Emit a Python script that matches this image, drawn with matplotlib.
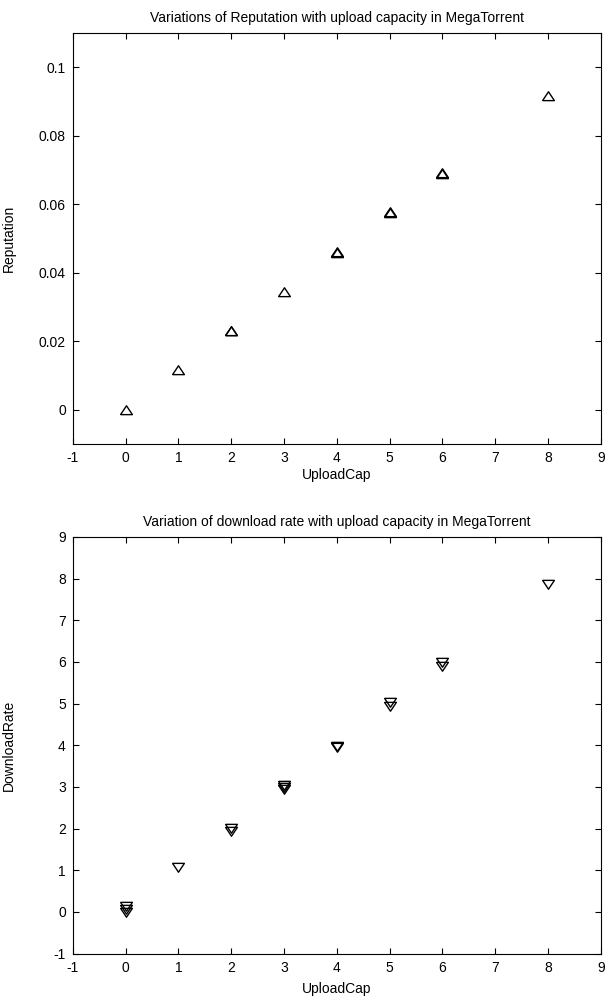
import matplotlib
matplotlib.use("Agg")
import matplotlib.pyplot as plt

plt.rcParams['font.family'] = ['Liberation Sans', 'DejaVu Sans']
plt.rcParams['font.size'] = 10
plt.rcParams['axes.unicode_minus'] = False

# upper panel: reputation vs upload capacity (several runs overlap at some x)
rep_upload = [0, 1, 2, 2, 3, 4, 4, 5, 5, 6, 6, 8]
reputation = [0.0, 0.0115, 0.0229, 0.0231, 0.0345, 0.0459, 0.0461,
              0.0574, 0.0576, 0.0689, 0.0691, 0.0917]

# lower panel: download rate vs upload capacity
dl_upload = [0, 0, 0, 1, 2, 2, 3, 3, 3, 4, 4, 5, 5, 6, 6, 8]
download_rate = [0.0, 0.06, 0.14, 1.07, 1.95, 2.02, 2.96, 3.0, 3.04,
                 3.95, 3.99, 4.95, 5.04, 5.9, 5.99, 7.87]

x_ticks = list(range(-1, 10))
rep_ticks = [0, 0.02, 0.04, 0.06, 0.08, 0.1]
rep_ticklabels = ["0", "0.02", "0.04", "0.06", "0.08", "0.1"]
dl_ticks = list(range(-1, 10))

# flatter matlab-like triangles
tri_up = [(-1, -0.7), (1, -0.7), (0, 0.8), (-1, -0.7)]
tri_down = [(-1, 0.7), (1, 0.7), (0, -0.8), (-1, 0.7)]

fig = plt.figure(figsize=(6.08, 9.96), dpi=100)
ax1 = fig.add_axes([0.1196, 0.5542, 0.8684, 0.4127])
ax2 = fig.add_axes([0.1196, 0.0425, 0.8684, 0.4184])


def style(ax):
    ax.set_xlim(-1, 9)
    ax.set_xticks(x_ticks)
    ax.tick_params(direction='in', top=True, right=True, length=4,
                   width=0.8, pad=5, colors='black', labelsize=10)
    for s in ax.spines.values():
        s.set_linewidth(0.8)


ax1.plot(rep_upload, reputation, linestyle='none', marker=tri_up, ms=8.5,
         mfc='none', mec='black', mew=1.0)
style(ax1)
ax1.set_ylim(-0.01, 0.11)
ax1.set_yticks(rep_ticks)
ax1.set_yticklabels(rep_ticklabels)
ax1.set_title("Variations of Reputation with upload capacity in MegaTorrent",
              fontsize=10, pad=8)
ax1.set_xlabel("UploadCap")
ax1.set_ylabel("Reputation")
ax1.xaxis.set_label_coords(0.5, -0.058)
ax1.yaxis.set_label_coords(-0.107, 0.5)

ax2.plot(dl_upload, download_rate, linestyle='none', marker=tri_down, ms=8.5,
         mfc='none', mec='black', mew=1.0)
style(ax2)
ax2.set_ylim(-1, 9)
ax2.set_yticks(dl_ticks)
ax2.set_title("Variation of download rate with upload capacity in MegaTorrent",
              fontsize=10, pad=8)
ax2.set_xlabel("UploadCap")
ax2.set_ylabel("DownloadRate")
ax2.xaxis.set_label_coords(0.5, -0.069)
ax2.yaxis.set_label_coords(-0.107, 0.5)

plt.savefig("out.png", dpi=100)
plt.close()
